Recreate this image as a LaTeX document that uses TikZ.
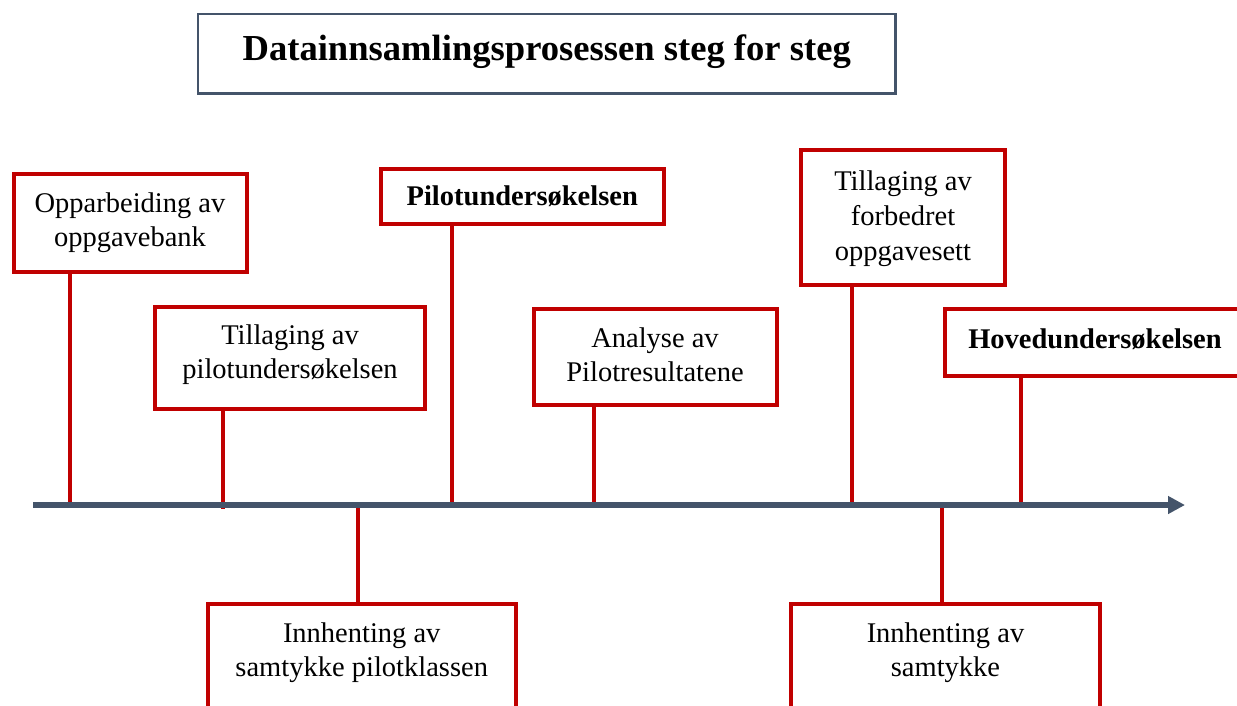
\documentclass[tikz,border=0pt]{standalone}
\usepackage{fontspec}
\setmainfont{Liberation Serif}
\usetikzlibrary{arrows.meta}
\definecolor{boxred}{HTML}{C00000}
\definecolor{slate}{HTML}{44546A}
\newcommand\bxt[3]{\raisebox{0pt}[#1pt][#2pt]{\begin{tabular}[t]{@{}c@{}}#3\end{tabular}}}
\begin{document}
\begin{tikzpicture}[x=1pt,y=-1pt,
  redbox/.style={draw=boxred, line width=4pt, rectangle, inner sep=0pt, outer sep=0pt,
    fill=white, font=\fontsize{28.5}{34}\selectfont},
  stemline/.style={draw=boxred, line width=4pt},
  axisline/.style={draw=slate, line width=6pt, -{Triangle[length=17pt,width=17pt]}},
  titlebox/.style={draw=slate, line width=2.5pt, rectangle, inner sep=0pt, outer sep=0pt,
    font=\fontsize{36.6}{44}\selectfont\bfseries}]
\useasboundingbox (0,0) rectangle (1237,705);
\clip (0,0) rectangle (1237,705);
\fill[white] (0,0) rectangle (1237,705);

% title
\node[titlebox, minimum width=697.5pt, minimum height=79.5pt] (title) at (546.75,53.75)
  {\raisebox{0pt}[24.5pt][10.4pt]{Datainnsamlingsprosessen steg for steg}};

% axis coordinates
\coordinate (axL) at (33,505);
\coordinate (axR) at (1185,505);
\coordinate (t1) at (70,505);
\coordinate (t2) at (223,509);
\coordinate (t3) at (452,505);
\coordinate (t4) at (594,505);
\coordinate (t5) at (852,505);
\coordinate (t6) at (1021,505);
\coordinate (u1) at (358,505);
\coordinate (u2) at (942,505);

% boxes above the axis
\node[redbox, minimum width=233pt, minimum height=98pt] (b1) at (130,222.5)
  {\bxt{18.9}{38.1}{Opparbeiding av\\oppgavebank}};
\node[redbox, minimum width=270pt, minimum height=102pt] (b2) at (290,357.5)
  {\bxt{18.9}{44.1}{Tillaging av\\pilotundersøkelsen}};
\node[redbox, minimum width=282.5pt, minimum height=55pt] (b3) at (522.25,196)
  {\bxt{20.9}{1.1}{\bfseries Pilotundersøkelsen}};
\node[redbox, minimum width=243pt, minimum height=96pt] (b4) at (655,357)
  {\bxt{18.9}{37.1}{Analyse av\\Pilotresultatene}};
\node[redbox, minimum width=204pt, minimum height=135pt] (b5) at (903,217.5)
  {\fontsize{28.5}{35}\selectfont\bxt{18.9}{72.1}{Tillaging av\\forbedret\\oppgavesett}};
\node[redbox, minimum width=301pt, minimum height=67pt] (b6) at (1095,342)
  {\bxt{18.9}{5.1}{\bfseries Hovedundersøkelsen}};

% boxes below the axis
\node[redbox, minimum width=308.5pt, minimum height=120pt] (b7) at (361.75,663.5)
  {\bxt{18.9}{60.1}{Innhenting av\\samtykke pilotklassen}};
\node[redbox, minimum width=309pt, minimum height=120pt] (b8) at (945.5,663.5)
  {\bxt{18.9}{60.1}{Innhenting av\\samtykke}};

% stems
\draw[stemline] (t1 |- b1.south) -- (t1);
\draw[stemline] (t2 |- b2.south) -- (t2);
\draw[stemline] (t3 |- b3.south) -- (t3);
\draw[stemline] (t4 |- b4.south) -- (t4);
\draw[stemline] (t5 |- b5.south) -- (t5);
\draw[stemline] (t6 |- b6.south) -- (t6);
\draw[stemline] (u1) -- (u1 |- b7.north);
\draw[stemline] (u2) -- (u2 |- b8.north);

% axis
\draw[axisline] (axL) -- (axR);
\end{tikzpicture}
\end{document}
